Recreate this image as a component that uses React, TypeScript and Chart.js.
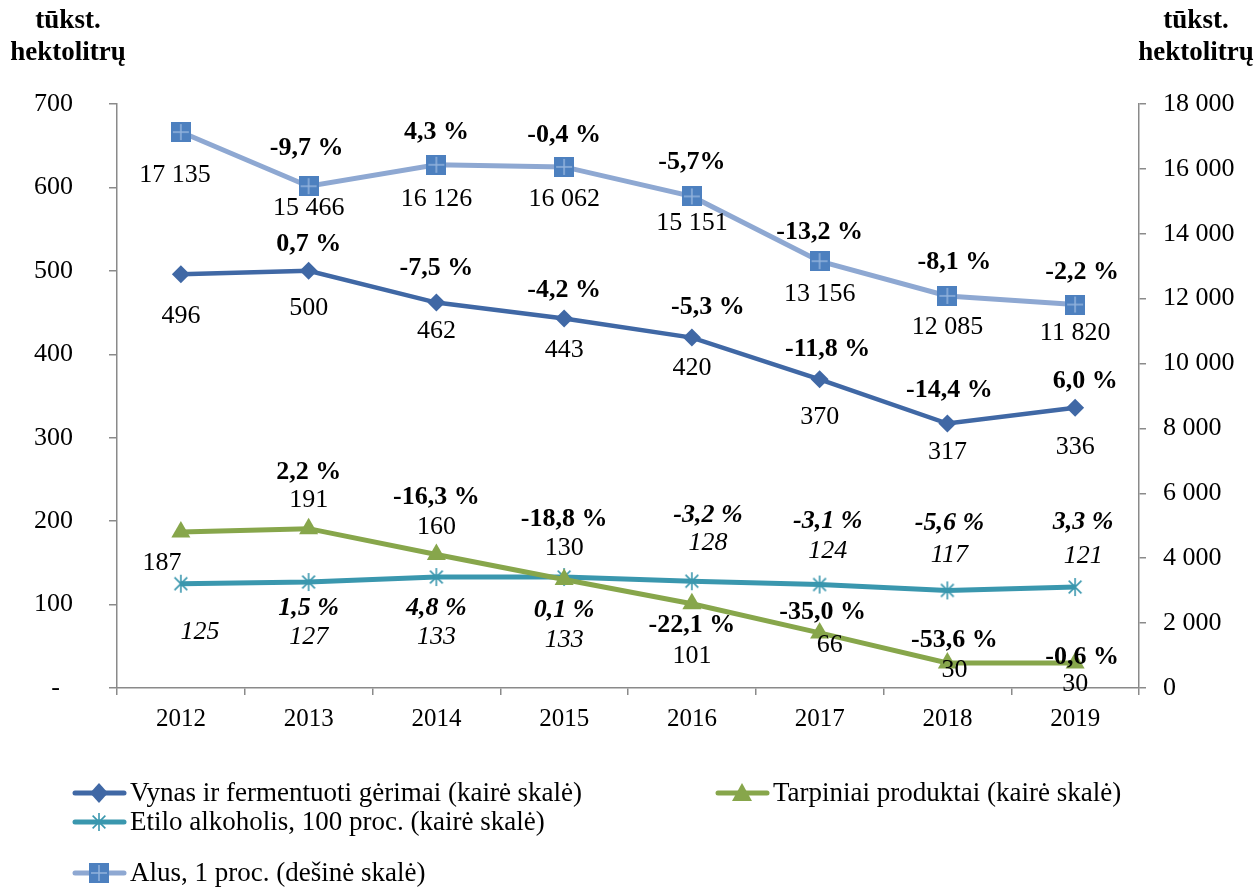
import React, { useEffect, useRef } from "react";
import { Chart, registerables } from "chart.js";

Chart.register(...registerables);

const years = ["2012", "2013", "2014", "2015", "2016", "2017", "2018", "2019"];

const vynasValues = [496, 500, 462, 443, 420, 370, 317, 336];
const vynasPct = ["", "0,7 %", "-7,5 %", "-4,2 %", "-5,3 %", "-11,8 %", "-14,4 %", "6,0 %"];

const tarpValues = [187, 191, 160, 130, 101, 66, 30, 30];
const tarpPct = ["", "2,2 %", "-16,3 %", "-18,8 %", "-22,1 %", "-35,0 %", "-53,6 %", "-0,6 %"];

const etiloValues = [125, 127, 133, 133, 128, 124, 117, 121];
const etiloPct = ["", "1,5 %", "4,8 %", "0,1 %", "-3,2 %", "-3,1 %", "-5,6 %", "3,3 %"];

const alusValues = [17135, 15466, 16126, 16062, 15151, 13156, 12085, 11820];
const alusPct = ["", "-9,7 %", "4,3 %", "-0,4 %", "-5,7%", "-13,2 %", "-8,1 %", "-2,2 %"];

const leftTicks = [0, 100, 200, 300, 400, 500, 600, 700];
const rightTicks = [0, 2000, 4000, 6000, 8000, 10000, 12000, 14000, 16000, 18000];

const axisTitle = ["tūkst.", "hektolitrų"];

const seriesNames = [
  "Vynas ir fermentuoti gėrimai (kairė skalė)",
  "Tarpiniai produktai (kairė skalė)",
  "Etilo alkoholis, 100 proc. (kairė skalė)",
  "Alus, 1 proc. (dešinė skalė)",
];

// label placement (pixel offsets from the point): [dx, dy]
const vynasValOff = [[0, 42], [0, 37], [0, 29], [0, 32], [0, 31], [0, 38], [0, 29], [0, 39]];
const vynasPctOff = [[0, 0], [0, -27], [0, -34], [0, -28], [16, -30], [8, -30], [2, -33], [10, -26]];
const tarpValOff = [[-19, 31], [0, -28], [0, -27], [0, -31], [0, 52], [10, 12], [7, 7], [0, 21]];
const tarpPctOff = [[0, 0], [0, -56], [0, -57], [0, -60], [0, 22], [3, -21], [7, -23], [7, -6]];
const etiloValOff = [[19, 48], [0, 55], [0, 60], [0, 63], [16, -38], [8, -33], [2, -35], [8, -31]];
const etiloPctOff = [[0, 0], [0, 26], [0, 31], [0, 33], [16, -66], [8, -63], [2, -67], [8, -65]];
const alusValOff = [[-6, 43], [0, 22], [0, 34], [0, 32], [0, 27], [0, 33], [0, 31], [0, 29]];
const alusPctOff = [[0, 0], [-2, -38], [0, -33], [0, -32], [0, -34], [0, -29], [7, -34], [7, -32]];

const C_VYNAS = "#4068a5";
const C_TARP = "#87a64b";
const C_ETILO = "#3a97ae";
const C_ALUS_LINE = "#8ea8d2";
const C_ALUS_MARK = "#4d80bf";
const C_ALUS_PLUS = "#93b3dd";
const AXIS_GRAY = "#8a8a8a";
const FONT = "'Liberation Serif', 'Times New Roman', serif";

function fmtSpace(v: number): string {
  const s = String(Math.round(v));
  return s.replace(/\B(?=(\d{3})+(?!\d))/g, " ");
}

function makeSquareMarker(size: number): HTMLCanvasElement {
  const c = document.createElement("canvas");
  c.width = size;
  c.height = size;
  const g = c.getContext("2d")!;
  g.fillStyle = C_ALUS_MARK;
  g.fillRect(0, 0, size, size);
  g.strokeStyle = C_ALUS_PLUS;
  g.lineWidth = 1.5;
  g.beginPath();
  g.moveTo(size / 2, 2);
  g.lineTo(size / 2, size - 2);
  g.moveTo(2, size / 2);
  g.lineTo(size - 2, size / 2);
  g.stroke();
  return c;
}

function makeAsterisk(size: number): HTMLCanvasElement {
  const c = document.createElement("canvas");
  c.width = size;
  c.height = size;
  const g = c.getContext("2d")!;
  const r = size / 2 - 1;
  const m = size / 2;
  g.strokeStyle = C_ETILO;
  g.lineWidth = 1.6;
  g.beginPath();
  const d = r * Math.SQRT1_2;
  g.moveTo(m - d, m - d);
  g.lineTo(m + d, m + d);
  g.moveTo(m + d, m - d);
  g.lineTo(m - d, m + d);
  g.moveTo(m, m - r);
  g.lineTo(m, m + r);
  g.stroke();
  return c;
}

export default function App() {
  const ref = useRef<HTMLCanvasElement | null>(null);

  useEffect(() => {
    if (!ref.current) return;
    const squareMk = makeSquareMarker(20);
    const starMk = makeAsterisk(20);

    const labelSets = [
      { val: vynasValues, pct: vynasPct, vOff: vynasValOff, pOff: vynasPctOff, italic: false, fmt: (v: number) => String(v) },
      { val: tarpValues, pct: tarpPct, vOff: tarpValOff, pOff: tarpPctOff, italic: false, fmt: (v: number) => String(v) },
      { val: etiloValues, pct: etiloPct, vOff: etiloValOff, pOff: etiloPctOff, italic: true, fmt: (v: number) => String(v) },
      { val: alusValues, pct: alusPct, vOff: alusValOff, pOff: alusPctOff, italic: false, fmt: fmtSpace },
    ];

    const labelPlugin = {
      id: "pointLabels",
      afterDatasetsDraw(chart: any) {
        const ctx = chart.ctx;
        ctx.save();
        ctx.fillStyle = "#000";
        ctx.textAlign = "center";
        ctx.textBaseline = "middle";
        labelSets.forEach((set, di) => {
          const meta = chart.getDatasetMeta(di);
          meta.data.forEach((pt: any, i: number) => {
            const x = pt.x;
            const y = pt.y;
            ctx.font = (set.italic ? "italic " : "") + "26px " + FONT;
            ctx.fillText(set.fmt(set.val[i]), x + set.vOff[i][0], y + set.vOff[i][1]);
            if (set.pct[i]) {
              ctx.font = (set.italic ? "italic " : "") + "bold 26px " + FONT;
              ctx.fillText(set.pct[i], x + set.pOff[i][0], y + set.pOff[i][1]);
            }
          });
        });
        ctx.restore();
      },
    };

    const decoPlugin = {
      id: "deco",
      afterDraw(chart: any) {
        const ctx = chart.ctx;
        ctx.save();
        // axis titles
        ctx.fillStyle = "#000";
        ctx.font = "bold 27px " + FONT;
        ctx.textAlign = "center";
        ctx.textBaseline = "middle";
        ctx.fillText(axisTitle[0], 68, 21);
        ctx.fillText(axisTitle[1], 68, 53);
        ctx.fillText(axisTitle[0], 1196, 21);
        ctx.fillText(axisTitle[1], 1196, 53);

        // legend
        const entries = [
          { x: 72, y: 793, color: C_VYNAS, mk: "diamond", text: seriesNames[0] },
          { x: 715, y: 793, color: C_TARP, mk: "triangle", text: seriesNames[1] },
          { x: 72, y: 822, color: C_ETILO, mk: "star", text: seriesNames[2] },
          { x: 72, y: 873, color: C_ALUS_LINE, mk: "square", text: seriesNames[3] },
        ];
        entries.forEach((e) => {
          ctx.strokeStyle = e.color;
          ctx.lineWidth = 5;
          ctx.lineCap = "round";
          ctx.beginPath();
          ctx.moveTo(e.x + 3, e.y);
          ctx.lineTo(e.x + 52, e.y);
          ctx.stroke();
          const cx = e.x + 27;
          if (e.mk === "diamond") {
            ctx.fillStyle = e.color;
            ctx.beginPath();
            ctx.moveTo(cx, e.y - 10);
            ctx.lineTo(cx + 9, e.y);
            ctx.lineTo(cx, e.y + 10);
            ctx.lineTo(cx - 9, e.y);
            ctx.closePath();
            ctx.fill();
          } else if (e.mk === "triangle") {
            ctx.fillStyle = e.color;
            ctx.beginPath();
            ctx.moveTo(cx, e.y - 10);
            ctx.lineTo(cx + 10, e.y + 8);
            ctx.lineTo(cx - 10, e.y + 8);
            ctx.closePath();
            ctx.fill();
          } else if (e.mk === "star") {
            ctx.drawImage(starMk, cx - 10, e.y - 10);
          } else {
            ctx.drawImage(squareMk, cx - 10, e.y - 10, 20, 20);
          }
          ctx.fillStyle = "#000";
          ctx.font = "27px " + FONT;
          ctx.textAlign = "left";
          ctx.textBaseline = "middle";
          ctx.fillText(e.text, e.x + 58, e.y + 1);
        });
        ctx.restore();
      },
    };

    const chart = new Chart(ref.current, {
      type: "line",
      data: {
        labels: years,
        datasets: [
          {
            label: seriesNames[0],
            data: vynasValues,
            yAxisID: "y",
            borderColor: C_VYNAS,
            backgroundColor: C_VYNAS,
            borderWidth: 4.5,
            pointStyle: "rectRot",
            pointRadius: 9,
            pointBorderWidth: 0,
            tension: 0,
          },
          {
            label: seriesNames[1],
            data: tarpValues,
            yAxisID: "y",
            borderColor: C_TARP,
            backgroundColor: C_TARP,
            borderWidth: 5,
            pointStyle: "triangle",
            pointRadius: 11,
            pointBorderWidth: 0,
            tension: 0,
          },
          {
            label: seriesNames[2],
            data: etiloValues,
            yAxisID: "y",
            borderColor: C_ETILO,
            backgroundColor: C_ETILO,
            borderWidth: 5,
            pointStyle: starMk as any,
            pointRadius: 10,
            tension: 0,
          },
          {
            label: seriesNames[3],
            data: alusValues,
            yAxisID: "y1",
            borderColor: C_ALUS_LINE,
            backgroundColor: C_ALUS_MARK,
            borderWidth: 5,
            pointStyle: squareMk as any,
            pointRadius: 10,
            tension: 0,
          },
        ],
      },
      options: {
        animation: false,
        responsive: false,
        maintainAspectRatio: false,
        layout: { padding: { top: 104, bottom: 0, left: 0, right: 0 } },
        plugins: {
          legend: { display: false },
          tooltip: { enabled: false },
        },
        scales: {
          x: {
            type: "category",
            offset: true,
            grid: {
              display: true,
              offset: true,
              drawOnChartArea: false,
              drawTicks: true,
              tickLength: 7,
              color: AXIS_GRAY,
              lineWidth: 1.5,
            },
            border: { display: true, color: AXIS_GRAY, width: 1.5 },
            ticks: {
              color: "#000",
              font: { family: FONT, size: 25 },
              padding: 9,
              maxRotation: 0,
              autoSkip: false,
            },
            afterFit(scale: any) {
              scale.height = 200;
            },
          },
          y: {
            type: "linear",
            position: "left",
            min: 0,
            max: 700,
            afterBuildTicks(scale: any) {
              scale.ticks = leftTicks.map((v) => ({ value: v }));
            },
            grid: {
              display: true,
              drawOnChartArea: false,
              drawTicks: true,
              tickLength: 8,
              color: AXIS_GRAY,
              lineWidth: 1.5,
            },
            border: { display: true, color: AXIS_GRAY, width: 1.5 },
            ticks: {
              color: "#000",
              font: { family: FONT, size: 26 },
              padding: 36,
              callback: (v: any) => (Number(v) === 0 ? "-  " : String(v)),
            },
            afterFit(scale: any) {
              scale.width = 117;
            },
          },
          y1: {
            type: "linear",
            position: "right",
            min: 0,
            max: 18000,
            afterBuildTicks(scale: any) {
              scale.ticks = rightTicks.map((v) => ({ value: v }));
            },
            grid: {
              display: true,
              drawOnChartArea: false,
              drawTicks: true,
              tickLength: 7,
              color: AXIS_GRAY,
              lineWidth: 1.5,
            },
            border: { display: true, color: AXIS_GRAY, width: 1.5 },
            ticks: {
              color: "#000",
              font: { family: FONT, size: 26 },
              padding: 17,
              callback: (v: any) => fmtSpace(Number(v)),
            },
            afterFit(scale: any) {
              scale.width = 117;
            },
          },
        },
      },
      plugins: [labelPlugin, decoPlugin],
    } as any);

    return () => chart.destroy();
  }, []);

  return (
    <div style={{ position: "fixed", left: 0, top: 0, width: 1256, height: 888, background: "#fff" }}>
      <canvas ref={ref} width={1256} height={888} style={{ width: 1256, height: 888, display: "block" }} />
    </div>
  );
}
